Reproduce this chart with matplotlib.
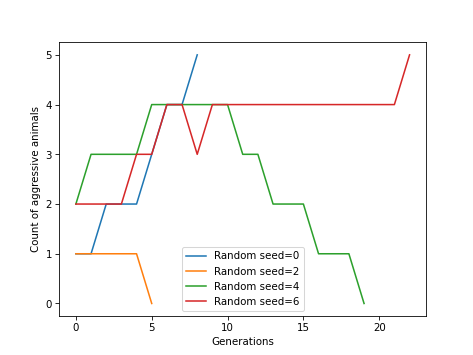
import matplotlib
matplotlib.use("Agg")
import matplotlib.pyplot as plt

seed0 = [1, 1, 2, 2, 2, 3, 4, 4, 5]
seed2 = [1, 1, 1, 1, 1, 0]
seed4 = [2, 3, 3, 3, 3, 4, 4, 4, 4, 4, 4, 3, 3, 2, 2, 2, 1, 1, 1, 0]
seed6 = [2, 2, 2, 2, 3, 3, 4, 4, 3, 4, 4, 4, 4, 4, 4, 4, 4, 4, 4, 4, 4, 4, 5]
labels = ["Random seed=0", "Random seed=2", "Random seed=4", "Random seed=6"]

fig = plt.figure(figsize=(6.4, 4.8), dpi=74)
for series, lab in zip([seed0, seed2, seed4, seed6], labels):
    plt.plot(range(len(series)), series, label=lab)

plt.xlabel("Generations")
plt.ylabel("Count of aggressive animals")
plt.legend(loc="lower center")
plt.savefig("out.png")
